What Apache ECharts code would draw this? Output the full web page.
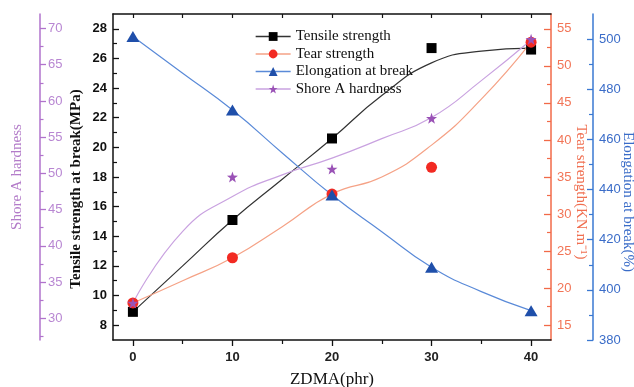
<!DOCTYPE html>
<html>
<head>
<meta charset="utf-8">
<script src="https://cdn.jsdelivr.net/npm/echarts@6/dist/echarts.min.js"></script>
<style>
  html, body { margin: 0; padding: 0; background: #ffffff; }
  #chart { width: 634px; height: 387px; }
</style>
</head>
<body>
<div id="chart"></div>
<script>
// ZDMA loading, phr
const zdma = [0, 10, 20, 30, 40];

// Measured properties at each loading
const tensile = [8.9, 15.1, 20.6, 26.7, 26.6];        // MPa
const tear = [18.0, 24.1, 32.7, 36.3, 53.2];          // kN/m
const elongation = [501, 471.7, 437.8, 409.0, 391.7]; // %
const shore = [32.1, 49.5, 50.6, 57.6, 68.5];         // Shore A

// Smoothed trend lines, sampled every 5 phr
const fitX = [0, 5, 10, 15, 20, 25, 30, 35, 40];
const tensileFit = [8.9, 12.0, 15.1, 17.85, 20.6, 23.5, 25.7, 26.5, 26.7];
const tearFit = [18.0, 21.0, 24.1, 28.3, 32.7, 35.0, 39.3, 45.5, 53.2];
const elongationFit = [501, 486.4, 471.7, 454.6, 437.8, 423.2, 409.0, 399.3, 391.7];
const shoreFit = [32.1, 42.0, 46.8, 49.8, 52.1, 54.8, 57.7, 62.8, 68.4];

// Series names (legend order)
const names = ['Tensile strength', 'Tear strength', 'Elongation at break', 'Shore A hardness'];

// Tick positions
const xTicks = [0, 10, 20, 30, 40];
const xMinorTicks = [5, 15, 25, 35];
const xTopTicks = [0, 5, 10, 15, 20, 25, 30, 35, 40];
const tensileTicks = [8, 10, 12, 14, 16, 18, 20, 22, 24, 26, 28];
const tensileMinor = [9, 11, 13, 15, 17, 19, 21, 23, 25, 27];
const shoreTicks = [30, 35, 40, 45, 50, 55, 60, 65, 70];
const shoreMinor = [27.5, 32.5, 37.5, 42.5, 47.5, 52.5, 57.5, 62.5, 67.5];
const tearTicks = [15, 20, 25, 30, 35, 40, 45, 50, 55];
const tearMinor = [17.5, 22.5, 27.5, 32.5, 37.5, 42.5, 47.5, 52.5];
const elongTicks = [380, 400, 420, 440, 460, 480, 500];
const elongMinor = [390, 410, 430, 450, 470, 490];

const STAR = 'path://M0,-10L2.35,-3.24L9.51,-3.09L3.8,1.24L5.88,8.09L0,4L-5.88,8.09L-3.8,1.24L-9.51,-3.09L-2.35,-3.24Z';

const SERIF = '"Liberation Serif", "Times New Roman", serif';
const SANS = '"Liberation Sans", Arial, sans-serif';

const cBlack = '#111111';
const cPurple = '#b173cc';
const cOrange = '#f26a48';
const cBlue = '#3a78d2';

function pairs(xs, ys) { return xs.map((x, i) => [x, ys[i]]); }

// Major axis (ticks + labels) and a companion axis for minor ticks
function yMajor(o) {
  return {
    type: 'value', gridIndex: 0, position: o.position, offset: o.offset,
    min: o.min, max: o.max,
    name: o.name, nameLocation: 'middle', nameGap: o.nameGap, nameRotate: o.nameRotate,
    nameMoveOverlap: false,
    nameTextStyle: Object.assign({ fontFamily: SERIF, fontSize: 15, color: o.nameColor }, o.nameStyle || {}),
    axisLine: { show: true, onZero: false, lineStyle: { color: o.color, width: 1.5 } },
    axisTick: { show: true, inside: true, length: o.tickLen, customValues: o.ticks, lineStyle: { color: o.color, width: 1.3 } },
    axisLabel: Object.assign({ show: true, customValues: o.ticks, margin: o.margin, inside: !!o.labelInside,
      fontFamily: SANS, fontSize: 13, color: o.labelColor }, o.labelStyle || {}),
    splitLine: { show: false }
  };
}
function yMinor(o) {
  return {
    type: 'value', gridIndex: 0, position: o.position, offset: o.offset,
    min: o.min, max: o.max,
    axisLine: { show: false, onZero: false },
    axisTick: { show: true, inside: true, length: o.len, customValues: o.ticks, lineStyle: { color: o.color, width: 1.2 } },
    axisLabel: { show: false },
    splitLine: { show: false }
  };
}

const option = {
  animation: false,
  backgroundColor: '#ffffff',
  grid: { left: 113, right: 83, top: 14, bottom: 47, containLabel: false, outerBoundsMode: 'none' },
  legend: {
    data: names,
    orient: 'vertical',
    left: 255, top: 29,
    itemWidth: 35, itemHeight: 11, itemGap: 2.5,
    padding: 0,
    textStyle: { fontFamily: SERIF, fontSize: 15, color: '#111' },
    lineStyle: { width: 1.3 }
  },
  xAxis: [
    {
      type: 'value', gridIndex: 0, position: 'bottom', min: -2, max: 42,
      name: 'ZDMA(phr)', nameLocation: 'middle', nameGap: 31, nameMoveOverlap: false,
      nameTextStyle: { fontFamily: SERIF, fontSize: 17, color: '#111' },
      axisLine: { show: true, onZero: false, lineStyle: { color: cBlack, width: 1.5 } },
      axisTick: { show: true, inside: false, length: 6, customValues: xTicks, lineStyle: { color: cBlack, width: 1.3 } },
      axisLabel: { customValues: xTicks, margin: 11, fontFamily: SANS, fontSize: 13, fontWeight: 'bold', color: '#222' },
      splitLine: { show: false }
    },
    {
      type: 'value', gridIndex: 0, position: 'bottom', min: -2, max: 42,
      axisLine: { show: false, onZero: false },
      axisTick: { show: true, inside: false, length: 4, customValues: xMinorTicks, lineStyle: { color: cBlack, width: 1.2 } },
      axisLabel: { show: false }, splitLine: { show: false }
    },
    {
      type: 'value', gridIndex: 0, position: 'top', min: -2, max: 42,
      axisLine: { show: true, onZero: false, lineStyle: { color: cBlack, width: 1.5 } },
      axisTick: { show: true, inside: true, length: 4, customValues: xTopTicks, lineStyle: { color: cBlack, width: 1.2 } },
      axisLabel: { show: false }, splitLine: { show: false }
    }
  ],
  yAxis: [
    yMajor({ position: 'left', offset: 0, min: 7, max: 29, color: cBlack, tickLen: 6, ticks: tensileTicks, margin: 6,
      labelColor: '#111', labelStyle: { fontWeight: 'bold' },
      name: 'Tensile strength at break(MPa)', nameGap: 29, nameColor: '#111',
      nameStyle: { fontWeight: 'bold', padding: [0, 24, 0, 0] } }),
    yMajor({ position: 'left', offset: 73, min: 27, max: 72, color: cPurple, tickLen: 6, ticks: shoreTicks, margin: 8,
      labelInside: true, labelColor: '#b886d2',
      name: 'Shore A hardness', nameGap: 15, nameColor: '#b37cc9' }),
    yMajor({ position: 'right', offset: 0, min: 13, max: 57, color: cOrange, tickLen: 7, ticks: tearTicks, margin: 6,
      labelColor: '#f27456',
      name: 'Tear strength(KN.m\u207B\u00B9)', nameGap: 22, nameRotate: -90, nameColor: '#f06e50',
      nameStyle: { padding: [0, 0, 0, 30] } }),
    yMajor({ position: 'right', offset: 42, min: 380, max: 510, color: cBlue, tickLen: 6, ticks: elongTicks, margin: 6,
      labelColor: '#3a6cc8',
      name: 'Elongation at break(%)', nameGap: 27, nameRotate: -90, nameColor: '#3a6cc8',
      nameStyle: { fontSize: 15, padding: [0, 0, 0, 50] } }),
    yMinor({ position: 'left', offset: 0, min: 7, max: 29, color: cBlack, len: 4, ticks: tensileMinor }),
    yMinor({ position: 'left', offset: 73, min: 27, max: 72, color: cPurple, len: 3.5, ticks: shoreMinor }),
    yMinor({ position: 'right', offset: 0, min: 13, max: 57, color: cOrange, len: 4, ticks: tearMinor }),
    yMinor({ position: 'right', offset: 42, min: 380, max: 510, color: cBlue, len: 4, ticks: elongMinor })
  ],
  series: [
    // trend lines
    { name: names[0], type: 'line', yAxisIndex: 0, data: pairs(fitX, tensileFit), smooth: true, showSymbol: false,
      symbol: 'rect', lineStyle: { color: '#333333', width: 1.2 }, itemStyle: { color: '#000000' }, z: 2 },
    { name: names[1], type: 'line', yAxisIndex: 2, data: pairs(fitX, tearFit), smooth: true, showSymbol: false,
      symbol: 'circle', lineStyle: { color: '#f5a286', width: 1.2 }, itemStyle: { color: '#f22a22' }, z: 2 },
    { name: names[2], type: 'line', yAxisIndex: 3, data: pairs(fitX, elongationFit), smooth: true, showSymbol: false,
      symbol: 'triangle', lineStyle: { color: '#5a8ad8', width: 1.2 }, itemStyle: { color: '#1f4faa' }, z: 2 },
    { name: names[3], type: 'line', yAxisIndex: 1, data: pairs(fitX, shoreFit), smooth: true, showSymbol: false,
      symbol: STAR, lineStyle: { color: '#c9a2e0', width: 1.2 }, itemStyle: { color: '#9a52b6' }, z: 2 },
    // measured points
    { name: names[0], type: 'scatter', yAxisIndex: 0, data: pairs(zdma, tensile), symbol: 'rect', symbolSize: 10,
      itemStyle: { color: '#000000', opacity: 1 }, z: 3 },
    { name: names[1], type: 'scatter', yAxisIndex: 2, data: pairs(zdma, tear), symbol: 'circle', symbolSize: 11,
      itemStyle: { color: '#f22a22', opacity: 1 }, z: 4 },
    { name: names[2], type: 'scatter', yAxisIndex: 3, data: pairs(zdma, elongation), symbol: 'triangle', symbolSize: [13, 11],
      itemStyle: { color: '#1f4faa', opacity: 1 }, z: 5 },
    { name: names[3], type: 'scatter', yAxisIndex: 1, data: pairs(zdma, shore), symbol: STAR, symbolSize: 11,
      itemStyle: { color: '#9a52b6', opacity: 1 }, z: 6 }
  ]
};

const chart = echarts.init(document.getElementById('chart'), null, { renderer: 'canvas' });
chart.setOption(option);
</script>
</body>
</html>
